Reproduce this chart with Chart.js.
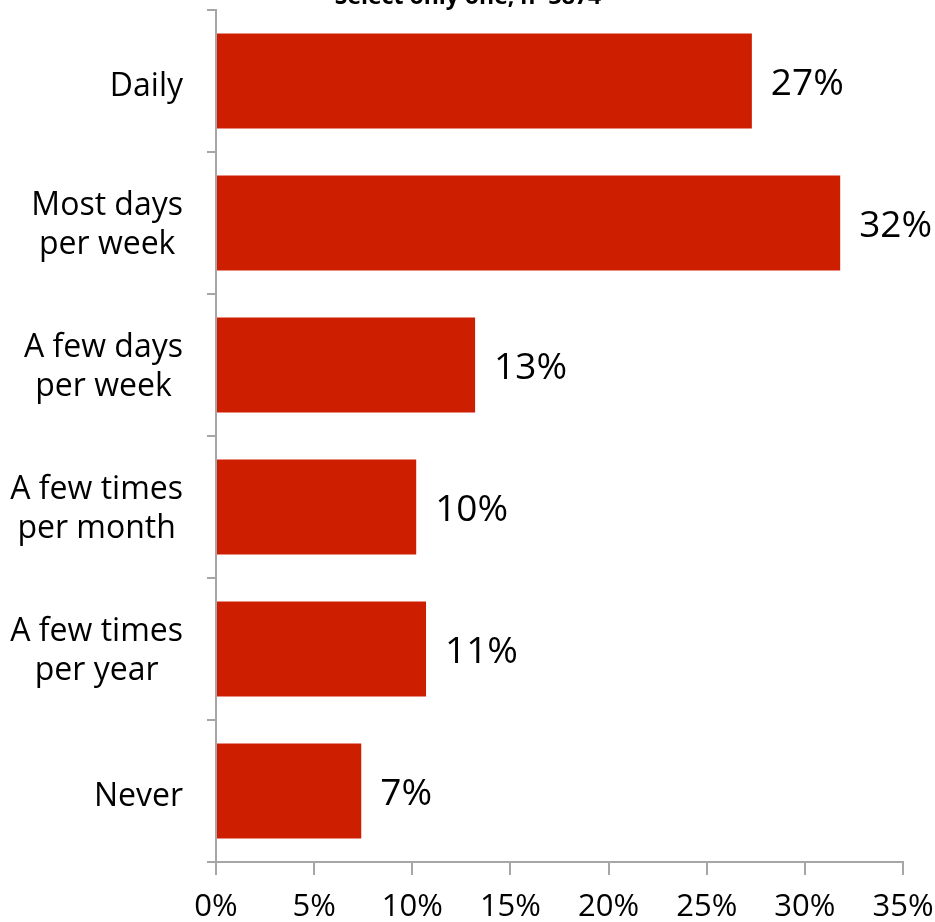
<!DOCTYPE html>
<html>
<head>
<meta charset="utf-8">
<script src="https://cdn.jsdelivr.net/npm/chart.js@4"></script>
<style>
  html, body { margin: 0; padding: 0; background: #fff; overflow: hidden; }
  #wrap { width: 935px; height: 922px; }
</style>
</head>
<body>
<div id="wrap"><canvas id="myChart"></canvas></div>
<script>
const categories = [
  ['Daily'],
  ['Most days', 'per week'],
  ['A few days', 'per week'],
  ['A few times', 'per month'],
  ['A few times', 'per year'],
  ['Never']
]
const shares = [0.273, 0.318, 0.132, 0.102, 0.107, 0.074]
const shareLabels = ['27%', '32%', '13%', '10%', '11%', '7%']
const xTicks = [0, 0.05, 0.1, 0.15, 0.2, 0.25, 0.3, 0.35]
const titleText = 'Select only one, n=3874'

const fontName = 'Open Sans'
const barColor = '#CD1E00'
const axisColor = '#A6A6A6'

// category labels: block right aligned, lines centred inside the block
const catLabels = {
  id: 'catLabels',
  afterDraw(chart) {
    const ctx = chart.ctx
    const yScale = chart.scales.y
    const lineH = 39
    ctx.save()
    ctx.fillStyle = '#000'
    ctx.font = '32px "' + fontName + '"'
    ctx.textAlign = 'center'
    ctx.textBaseline = 'alphabetic'
    categories.forEach((lines, i) => {
      const yc = yScale.getPixelForTick(i)
      const w = Math.max(...lines.map(t => ctx.measureText(t).width))
      const xc = yScale.right - 33 - w / 2
      const first = lines.length == 1 ? yc + 15 : yc - 8
      lines.forEach((t, j) => ctx.fillText(t, xc, first + j * lineH))
    })
    ctx.restore()
  }
}

// value labels at the end of each bar, plus the clipped title on top
const barLabels = {
  id: 'barLabels',
  afterDatasetsDraw(chart) {
    const ctx = chart.ctx
    const meta = chart.getDatasetMeta(0)
    ctx.save()
    ctx.fillStyle = '#000'
    ctx.font = '37px "' + fontName + '"'
    ctx.textAlign = 'left'
    ctx.textBaseline = 'middle'
    meta.data.forEach((bar, i) => {
      ctx.fillText(shareLabels[i], bar.x + 19, bar.y + 3)
    })
    ctx.font = 'bold 23px "' + fontName + '"'
    ctx.textAlign = 'center'
    ctx.textBaseline = 'alphabetic'
    ctx.fillText(titleText, 468, 4)
    ctx.restore()
  }
}

const ctx = document.getElementById('myChart').getContext('2d')
const myChart = new Chart(ctx, {
  type: 'bar',
  data: {
    labels: categories.map(l => l.join(' ')),
    datasets: [{
      data: shares,
      backgroundColor: barColor,
      borderWidth: 0,
      barPercentage: 0.67,
      categoryPercentage: 1
    }]
  },
  plugins: [barLabels, catLabels],
  options: {
    indexAxis: 'y',
    responsive: true,
    maintainAspectRatio: false,
    animation: false,
    layout: { padding: { top: 10, right: 32, left: 0, bottom: 0 } },
    plugins: {
      legend: { display: false },
      tooltip: { enabled: false }
    },
    scales: {
      x: {
        min: 0,
        max: 0.35,
        afterBuildTicks(scale) {
          scale.ticks = xTicks.map(v => ({ value: v }))
        },
        afterFit(scale) {
          scale.height = 60
          scale.paddingLeft = 0
          scale.paddingRight = 0
        },
        border: { display: true, color: axisColor, width: 2 },
        grid: {
          drawOnChartArea: false,
          drawTicks: true,
          tickLength: 13,
          color: axisColor,
          lineWidth: 2
        },
        ticks: {
          color: '#000',
          padding: 14,
          maxRotation: 0,
          font: { family: fontName, size: 31 },
          callback: v => Math.round(v * 100) + '%'
        }
      },
      y: {
        afterFit(scale) {
          scale.width = 216
          scale.paddingTop = 0
          scale.paddingBottom = 0
        },
        border: { display: true, color: axisColor, width: 2 },
        grid: {
          offset: true,
          drawOnChartArea: false,
          drawTicks: true,
          tickLength: 9,
          color: axisColor,
          lineWidth: 2
        },
        ticks: { display: false }
      }
    }
  }
})
</script>
</body>
</html>
